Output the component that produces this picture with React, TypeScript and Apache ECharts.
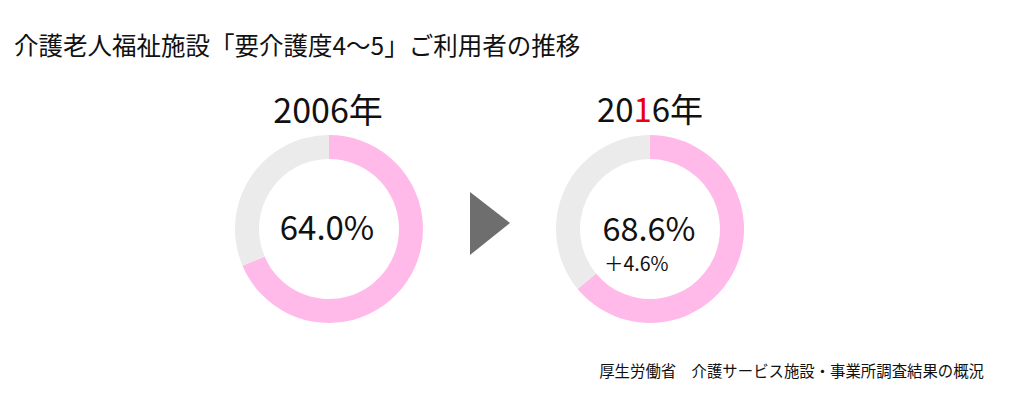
import React, { useEffect, useRef } from "react";
import * as echarts from "echarts";

const titleText = "介護老人福祉施設「要介護度4～5」ご利用者の推移";
const sourceText = "厚生労働省　介護サービス施設・事業所調査結果の概況";
const years = ["2006", "2016"];
const yearSuffix = "年";
const labelValues = [64.0, 68.6];
const diffLabel = "＋4.6%";
// ring shares as drawn in the picture (pink arc, clockwise from top)
const ringShares = [68.6, 64.0];

const PINK = "#FFBAE9";
const GRAY = "#EBEBEB";
const FONT = "'Noto Sans CJK JP', 'Noto Sans', sans-serif";

export default function App() {
  const ref = useRef<HTMLDivElement>(null);
  useEffect(() => {
    document.body.style.margin = "0";
    const chart = echarts.init(ref.current!, null, { renderer: "svg" });
    const centers = [
      [329, 229],
      [650, 229],
    ];
    const series = ringShares.map((v, i) => ({
      type: "pie",
      center: centers[i],
      radius: [70, 94],
      startAngle: 90,
      clockwise: true,
      silent: true,
      label: { show: false },
      labelLine: { show: false },
      emphasis: { disabled: true },
      data: [
        { value: v, itemStyle: { color: PINK } },
        { value: 100 - v, itemStyle: { color: GRAY } },
      ],
    }));

    const yearLabel = (y: string, i: number) => {
      if (i === 1) {
        return {
          type: "text",
          x: centers[i][0],
          y: 108,
          style: {
            text: `{b|${y.slice(0, 2)}}{r|${y.slice(2, 3)}}{b|${y.slice(3)}${yearSuffix}}`,
            align: "center",
            verticalAlign: "middle",
            rich: {
              b: { fontSize: 33, lineHeight: 36, fontFamily: FONT, fill: "#111" },
              r: { fontSize: 33, lineHeight: 36, fontFamily: FONT, fill: "#E60012" },
            },
          },
        };
      }
      return {
        type: "text",
        x: centers[i][0] - 1,
        y: 108,
        style: {
          text: y + yearSuffix,
          fontSize: 34,
          lineHeight: 36,
          fontFamily: FONT,
          fill: "#111",
          align: "center",
          verticalAlign: "middle",
        },
      };
    };

    const graphics: any[] = [
      {
        type: "text",
        x: 14,
        y: 44,
        style: {
          text: titleText,
          fontSize: 24.5,
          lineHeight: 28,
          fontFamily: FONT,
          fill: "#111",
          verticalAlign: "middle",
        },
      },
      ...years.map(yearLabel),
      {
        type: "text",
        x: centers[0][0] - 2,
        y: 226,
        style: {
          text: labelValues[0].toFixed(1) + "%",
          fontSize: 33,
          lineHeight: 33,
          fontFamily: FONT,
          fill: "#111",
          align: "center",
          verticalAlign: "middle",
        },
      },
      {
        type: "text",
        x: centers[1][0] - 1,
        y: 226,
        style: {
          text: labelValues[1].toFixed(1) + "%",
          fontSize: 32.5,
          lineHeight: 33,
          fontFamily: FONT,
          fill: "#111",
          align: "center",
          verticalAlign: "middle",
        },
      },
      {
        type: "text",
        x: 604,
        y: 262,
        style: {
          text: diffLabel,
          fontSize: 19.5,
          lineHeight: 20,
          fontFamily: FONT,
          fill: "#111",
          align: "left",
          verticalAlign: "middle",
        },
      },
      {
        type: "polygon",
        shape: {
          points: [
            [470, 192],
            [510, 223],
            [470, 255],
          ],
        },
        style: { fill: "#6E6E6E" },
      },
      {
        type: "text",
        x: 984,
        y: 370,
        style: {
          text: sourceText,
          fontSize: 15.4,
          lineHeight: 18,
          fontFamily: FONT,
          fill: "#111",
          align: "right",
          verticalAlign: "middle",
        },
      },
    ];

    chart.setOption({
      animation: false,
      backgroundColor: "#fff",
      series,
      graphic: graphics,
    });
    return () => chart.dispose();
  }, []);
  return (
    <div
      ref={ref}
      style={{ position: "fixed", left: 0, top: 0, width: 1023, height: 400 }}
    />
  );
}
